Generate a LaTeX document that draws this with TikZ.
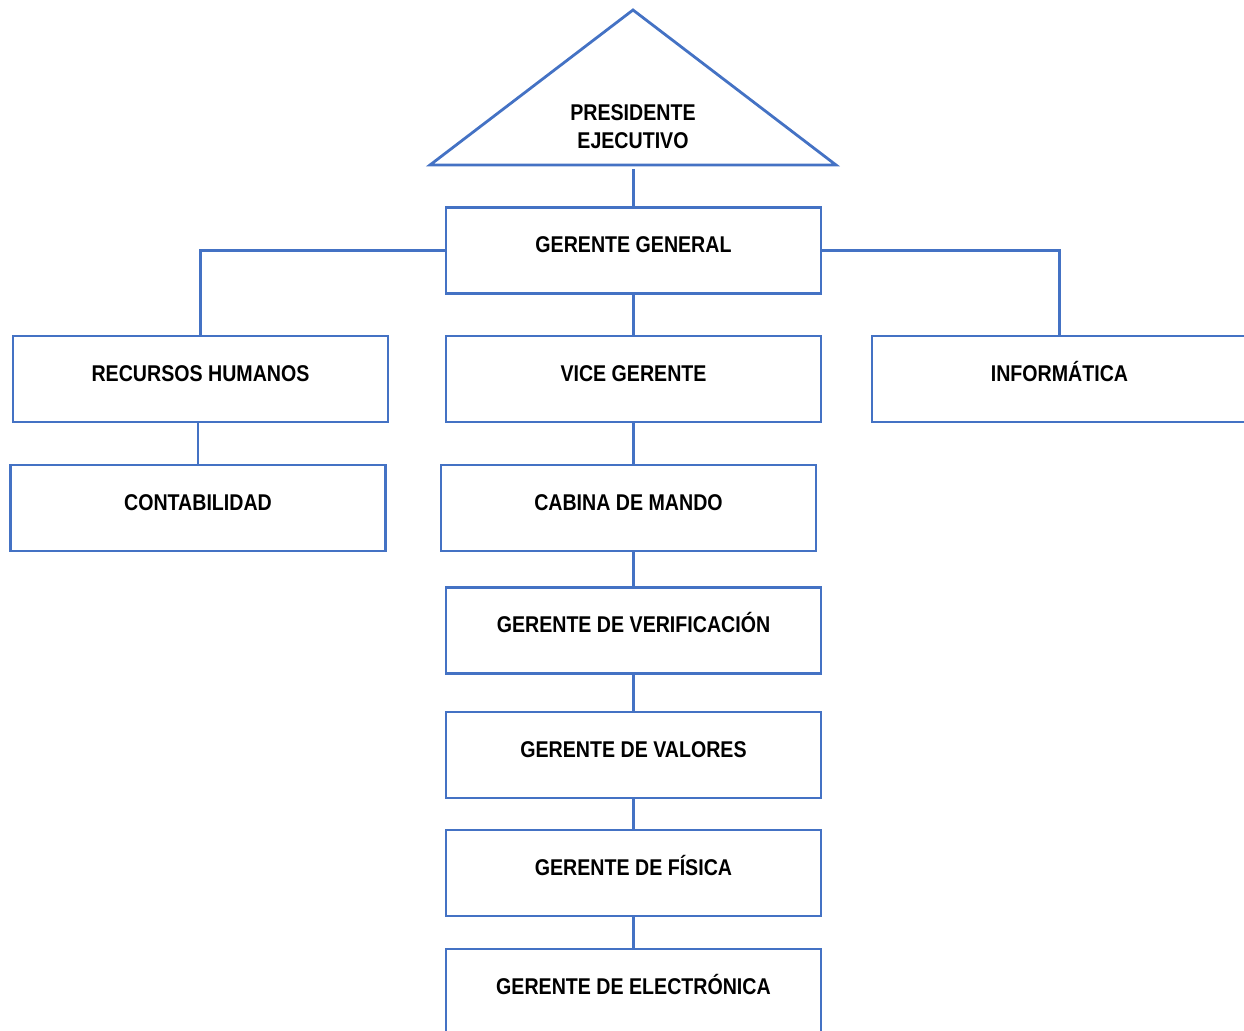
\documentclass[tikz,border=0pt]{standalone}
\usepackage{fontspec}
\setmainfont[FakeStretch=0.86]{Liberation Sans}
\definecolor{orgblue}{HTML}{4472C4}
\begin{document}
\begin{tikzpicture}[x=0.5pt,y=-0.5pt,
  box/.style={draw=orgblue, line width=1.4pt, rectangle, minimum width=187.5pt,
    minimum height=43pt, inner sep=0pt, text height=3pt, text depth=0.5pt,
    font=\bfseries\fontsize{11.4}{13}\selectfont},
  link/.style={draw=orgblue, line width=1.4pt},
  lbl/.style={font=\bfseries\fontsize{11.4}{14}\selectfont, align=center, inner sep=0pt}]
\useasboundingbox (0,0) rectangle (1244,1031);
\clip (0,0) rectangle (1244,1031);
% triangle
\coordinate (apex) at (633,10);
\coordinate (bl) at (430,165);
\coordinate (br) at (836,165);
\draw[link] (apex) -- (br) -- (bl) -- cycle;
\node[lbl] (pres) at (633,127) {PRESIDENTE\\EJECUTIVO};
\coordinate (tb) at (633.5,169);
% boxes
\node[box] (gg) at (633.5,250.5) {GERENTE GENERAL};
\node[box] (rh) at (200.5,379) {RECURSOS HUMANOS};
\node[box] (vg) at (633.5,379) {VICE GERENTE};
\node[box] (info) at (1059.5,379) {INFORMÁTICA};
\node[box] (cont) at (198,508) {CONTABILIDAD};
\node[box] (cm) at (628.5,508) {CABINA DE MANDO};
\node[box] (gv) at (633.5,630.5) {GERENTE DE VERIFICACIÓN};
\node[box] (gval) at (633.5,755) {GERENTE DE VALORES};
\node[box] (gf) at (633.5,873) {GERENTE DE FÍSICA};
\node[box] (ge) at (633.5,992) {GERENTE DE ELECTRÓNICA};
% connectors
\draw[link] (tb) -- (gg.north);
\draw[link] (gg.west) -| (rh.north);
\draw[link] (gg.east) -| (info.north);
\draw[link] (gg.south) -- (vg.north);
\draw[link] (rh.south -| cont.north) -- (cont.north);
\draw[link] (vg.south) -- (vg.south |- cm.north);
\draw[link] (gv.north |- cm.south) -- (gv.north);
\draw[link] (gv.south) -- (gval.north);
\draw[link] (gval.south) -- (gf.north);
\draw[link] (gf.south) -- (ge.north);
\end{tikzpicture}
\end{document}
